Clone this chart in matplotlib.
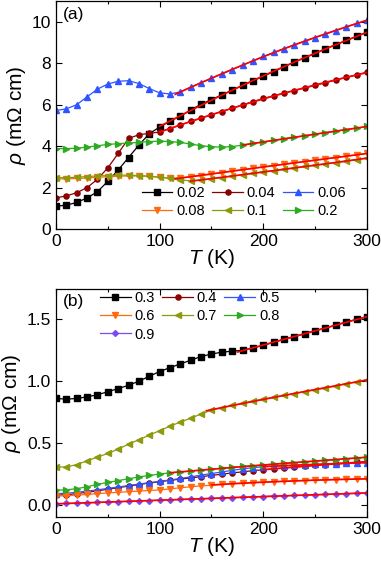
import numpy as np
import matplotlib
matplotlib.use("Agg")
import matplotlib.pyplot as plt
from matplotlib.ticker import MultipleLocator, FormatStrFormatter

plt.rcParams["font.family"] = ["Liberation Sans", "DejaVu Sans"]
plt.rcParams["mathtext.fontset"] = "custom"
plt.rcParams["mathtext.it"] = "Liberation Sans:italic"
plt.rcParams["mathtext.rm"] = "Liberation Sans"

T = list(range(0, 301, 10))

# panel (a)
labels_a = ["0.02", "0.04", "0.06", "0.08", "0.1", "0.2"]
rho_002 = [1.1, 1.15, 1.28, 1.5, 1.8, 2.3, 2.85, 3.45, 4.05, 4.6, 4.92, 5.2, 5.45, 5.75,
           6.02, 6.25, 6.47, 6.7, 6.93, 7.15, 7.37, 7.6, 7.83, 8.05, 8.27, 8.48, 8.69,
           8.9, 9.1, 9.3, 9.5]
rho_004 = [1.5, 1.6, 1.75, 2.0, 2.4, 2.95, 3.65, 4.37, 4.55, 4.62, 4.68, 4.85, 5.02, 5.19,
           5.35, 5.51, 5.67, 5.83, 5.99, 6.15, 6.3, 6.43, 6.56, 6.68, 6.81, 6.93, 7.06,
           7.19, 7.32, 7.44, 7.57]
rho_006 = [5.72, 5.8, 6.0, 6.38, 6.75, 7.0, 7.13, 7.16, 7.02, 6.78, 6.57, 6.52, 6.62, 6.85,
           7.06, 7.27, 7.48, 7.69, 7.9, 8.12, 8.33, 8.52, 8.71, 8.89, 9.07, 9.24, 9.41,
           9.58, 9.75, 9.92, 10.08]
rho_008 = [2.42, 2.42, 2.44, 2.46, 2.5, 2.52, 2.55, 2.56, 2.56, 2.54, 2.5, 2.46, 2.47, 2.52,
           2.58, 2.65, 2.72, 2.8, 2.86, 2.93, 3.0, 3.06, 3.13, 3.19, 3.25, 3.32, 3.38,
           3.45, 3.51, 3.58, 3.65]
rho_01 = [2.48, 2.48, 2.5, 2.53, 2.56, 2.58, 2.6, 2.6, 2.58, 2.55, 2.5, 2.44, 2.36, 2.33,
          2.36, 2.42, 2.48, 2.55, 2.62, 2.69, 2.76, 2.82, 2.89, 2.95, 3.02, 3.08, 3.14,
          3.2, 3.27, 3.35, 3.43]
rho_02 = [3.88, 3.88, 3.9, 3.95, 4.02, 4.08, 4.12, 4.15, 4.18, 4.22, 4.24, 4.22, 4.18, 4.1,
          4.02, 3.97, 3.95, 3.98, 4.05, 4.13, 4.2, 4.28, 4.35, 4.43, 4.5, 4.58, 4.65,
          4.72, 4.8, 4.87, 4.95]
fit_from_a = [100, 100, 115, 115, 130, 180]

# panel (b)
labels_b = ["0.3", "0.4", "0.5", "0.6", "0.7", "0.8", "0.9"]
rho_03 = [0.86, 0.855, 0.86, 0.873, 0.89, 0.915, 0.94, 0.967, 1.0, 1.04, 1.078, 1.11, 1.14,
          1.17, 1.2, 1.22, 1.235, 1.243, 1.25, 1.27, 1.29, 1.315, 1.34, 1.36, 1.385, 1.41,
          1.43, 1.455, 1.48, 1.5, 1.52]
rho_04 = [0.078, 0.08, 0.09, 0.1, 0.112, 0.125, 0.138, 0.15, 0.163, 0.175, 0.186, 0.197,
          0.207, 0.217, 0.227, 0.237, 0.247, 0.257, 0.266, 0.275, 0.283, 0.29, 0.297,
          0.304, 0.311, 0.318, 0.324, 0.331, 0.337, 0.343, 0.348]
rho_05 = [0.09, 0.092, 0.1, 0.11, 0.12, 0.132, 0.143, 0.155, 0.167, 0.178, 0.19, 0.2, 0.212,
          0.225, 0.24, 0.252, 0.265, 0.278, 0.29, 0.3, 0.307, 0.312, 0.316, 0.32, 0.323,
          0.326, 0.329, 0.332, 0.335, 0.338, 0.341]
rho_06 = [0.07, 0.072, 0.077, 0.083, 0.089, 0.095, 0.1, 0.105, 0.11, 0.115, 0.12, 0.128,
          0.137, 0.145, 0.152, 0.158, 0.164, 0.17, 0.175, 0.179, 0.183, 0.186, 0.189,
          0.192, 0.195, 0.198, 0.2, 0.203, 0.205, 0.208, 0.21]
rho_07 = [0.305, 0.305, 0.325, 0.355, 0.385, 0.415, 0.45, 0.49, 0.527, 0.562, 0.6, 0.635,
          0.67, 0.7, 0.735, 0.765, 0.785, 0.805, 0.82, 0.84, 0.855, 0.87, 0.885, 0.9,
          0.915, 0.93, 0.945, 0.96, 0.98, 0.995, 1.013]
rho_08 = [0.118, 0.12, 0.13, 0.145, 0.165, 0.18, 0.195, 0.21, 0.225, 0.237, 0.248, 0.258,
          0.265, 0.272, 0.28, 0.287, 0.295, 0.302, 0.31, 0.316, 0.322, 0.328, 0.334, 0.34,
          0.346, 0.352, 0.358, 0.364, 0.372, 0.379, 0.386]
rho_09 = [0.008, 0.01, 0.012, 0.015, 0.018, 0.021, 0.024, 0.027, 0.03, 0.033, 0.036, 0.039,
          0.042, 0.045, 0.048, 0.051, 0.054, 0.057, 0.06, 0.063, 0.066, 0.069, 0.072,
          0.075, 0.077, 0.08, 0.083, 0.086, 0.089, 0.092, 0.095]
fit_from_b = [175, 200, 200, 150, 145, 110, 0]

colors_a = ["black", "#8b0000", "#2f55ff", "#ff6a10", "#8c9a0c", "#2eaa22"]
markers_a = ["s", "o", "^", "v", "<", ">"]
colors_b = ["black", "#8b0000", "#2f55ff", "#ff6a10", "#8c9a0c", "#2eaa22", "#7a4cf0"]
markers_b = ["s", "o", "^", "v", "<", ">", "D"]
fit_color = "#ff0000"


def draw(ax, series, labels, colors, markers, fit_from):
    t = np.array(T, dtype=float)
    lines = []
    for y, lab, c, m in zip(series, labels, colors, markers):
        ms = 3.0 if m == "D" else 3.7
        ln, = ax.plot(t, y, color=c, marker=m, ms=ms, lw=0.9, label=lab)
        lines.append(ln)
    for y, t0 in zip(series, fit_from):
        y = np.array(y)
        sel = t >= t0
        p = np.polyfit(t[sel], y[sel], 2)
        tt = np.linspace(t0, 300, 100)
        ax.plot(tt, np.polyval(p, tt), color=fit_color, lw=1.2)
    return lines


def style(ax):
    ax.set_xlim(0, 300)
    ax.xaxis.set_major_locator(MultipleLocator(100))
    ax.xaxis.set_minor_locator(MultipleLocator(50))
    ax.tick_params(which="both", direction="in", top=True, right=True, labelsize=12.5)
    ax.tick_params(which="major", length=4, width=0.8)
    ax.tick_params(which="minor", length=2.5, width=0.8)
    ax.tick_params(axis="y", which="minor", left=False, right=False)
    for s in ax.spines.values():
        s.set_linewidth(0.9)
    ax.set_xlabel(r"$T$ (K)", fontsize=15, labelpad=-1)
    ax.set_ylabel(r"$\rho$ (m$\Omega$ cm)", fontsize=15, labelpad=3)


legend_kw = dict(loc="upper left", ncol=3, frameon=False, fontsize=10.5,
                 handlelength=2.1, handletextpad=0.27, columnspacing=0.5,
                 labelspacing=0.28, borderpad=0.0, borderaxespad=0.0)

fig = plt.figure(figsize=(3.81, 5.64), dpi=100)
ax1 = fig.add_axes([0.147, 0.594, 0.816, 0.404])
ax2 = fig.add_axes([0.147, 0.0833, 0.816, 0.405])

la = draw(ax1, [rho_002, rho_004, rho_006, rho_008, rho_01, rho_02], labels_a, colors_a,
          markers_a, fit_from_a)
style(ax1)
ax1.set_ylim(0, 11)
ax1.yaxis.set_major_locator(MultipleLocator(2))
ax1.text(0.022, 0.975, "(a)", transform=ax1.transAxes, fontsize=12.5, va="top")
# rows: 0.02 0.04 0.06 / 0.08 0.1 0.2
order = [0, 3, 1, 4, 2, 5]
ax1.legend([la[i] for i in order], [labels_a[i] for i in order],
           bbox_to_anchor=(0.276, 0.19), **legend_kw)

lb = draw(ax2, [rho_03, rho_04, rho_05, rho_06, rho_07, rho_08, rho_09], labels_b, colors_b,
          markers_b, fit_from_b)
style(ax2)
ax2.set_ylim(-0.1, 1.75)
ax2.yaxis.set_major_locator(MultipleLocator(0.5))
ax2.yaxis.set_major_formatter(FormatStrFormatter("%.1f"))
ax2.text(0.022, 0.975, "(b)", transform=ax2.transAxes, fontsize=12.5, va="top")
order = [0, 3, 6, 1, 4, 2, 5]
ax2.legend([lb[i] for i in order], [labels_b[i] for i in order],
           bbox_to_anchor=(0.1415, 0.988), **legend_kw)

fig.savefig("out.png", dpi=100)
